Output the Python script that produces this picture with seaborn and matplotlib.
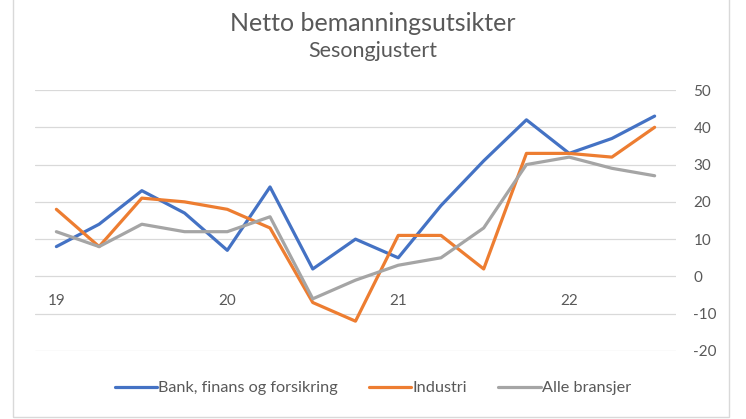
import matplotlib
matplotlib.use("Agg")
import matplotlib.pyplot as plt
import seaborn as sns
import pandas as pd
from matplotlib.patches import Rectangle
from matplotlib.lines import Line2D

# Quarterly data, 2019 Q1 - 2022 Q3
quarters = ['19', '', '', '', '20', '', '', '', '21', '', '', '', '22', '', '']
bank = [8, 14, 23, 17, 7, 24, 2, 10, 5, 19, 31, 42, 33, 37, 43]
industri = [18, 8, 21, 20, 18, 13, -7, -12, 11, 11, 2, 33, 33, 32, 40]
alle = [12, 8, 14, 12, 12, 16, -6, -1, 3, 5, 13, 30, 32, 29, 27]
series_names = ['Bank, finans og forsikring', 'Industri', 'Alle bransjer']
colors = ['#4472C4', '#ED7D31', '#A5A5A5']
y_ticks = [-20, -10, 0, 10, 20, 30, 40, 50]

sns.set_theme(style="white")
plt.rcParams['font.family'] = ['Lato', 'DejaVu Sans']
plt.rcParams['axes.unicode_minus'] = False
text_color = '#595959'

rows = []
for name, vals in zip(series_names, [bank, industri, alle]):
    for i, v in enumerate(vals):
        rows.append({'idx': i, 'value': v, 'series': name})
df = pd.DataFrame(rows)

fig = plt.figure(figsize=(7.46, 4.19), dpi=100)
ax = fig.add_axes([35 / 746, 1 - 351 / 419, (676 - 35) / 746, (351 - 90) / 419])

sns.lineplot(data=df, x='idx', y='value', hue='series', palette=colors,
             hue_order=series_names, linewidth=2.3, ax=ax, legend=False)

ax.set_xlim(-0.5, len(quarters) - 0.5)
ax.set_ylim(-20, 50)
ax.set_yticks(y_ticks)
ax.yaxis.grid(True, color='#D9D9D9', linewidth=0.9)
ax.set_axisbelow(True)
ax.yaxis.tick_right()
ax.tick_params(axis='y', length=0, pad=12.5, labelsize=11, labelcolor=text_color)
for lbl in ax.get_yticklabels():
    lbl.set_horizontalalignment('left')
ax.set_xticks(range(len(quarters)))
ax.set_xticklabels(quarters)
ax.spines['bottom'].set_position(('data', 0))
ax.tick_params(axis='x', length=0, pad=13, labelsize=11, labelcolor=text_color)
for s in ax.spines.values():
    s.set_visible(False)
ax.set_xlabel(None)
ax.set_ylabel(None)

fig.text(0.5, 1 - 31 / 419, 'Netto bemanningsutsikter', ha='center', va='baseline',
         fontsize=18, color=text_color)
fig.text(0.5, 1 - 57 / 419, 'Sesongjustert', ha='center', va='baseline',
         fontsize=15.5, color=text_color)

handles = [Line2D([0], [0], color=c, linewidth=2.3) for c in colors]
fig.legend(handles, series_names, loc='center', bbox_to_anchor=(0.5, 1 - 388 / 419),
           ncol=3, frameon=False, fontsize=11.7, labelcolor=text_color,
           handlelength=2.6, handletextpad=0.1, columnspacing=1.9)

fig.patches.append(Rectangle((13 / 746, 2 / 419), (729 - 13) / 746, 1.0,
                             transform=fig.transFigure, fill=False,
                             edgecolor='#D9D9D9', linewidth=1.0))

fig.savefig('out.png', dpi=100)
